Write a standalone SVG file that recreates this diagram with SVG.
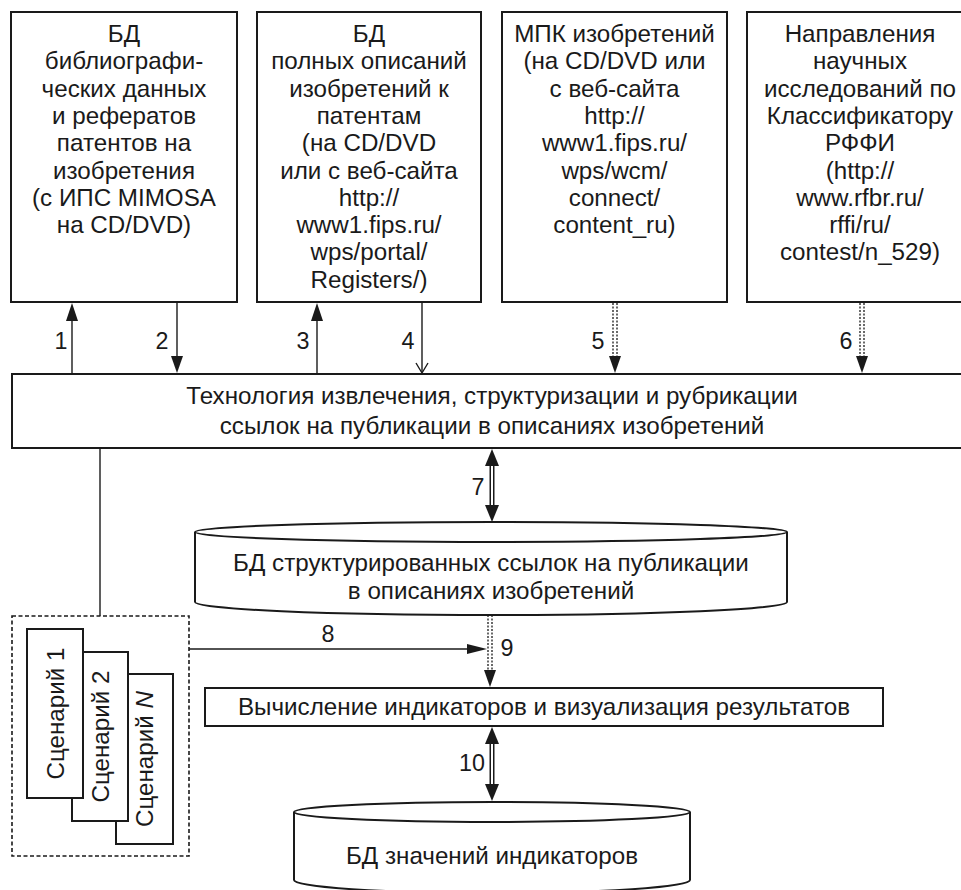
<svg xmlns="http://www.w3.org/2000/svg" width="961" height="890" viewBox="0 0 961 890">
<defs>
<style>
.box{fill:#fff;stroke:#1a1a1a;stroke-width:2}
.t{font-family:"Liberation Sans",Arial,sans-serif;font-size:24.2px;fill:#1a1a1a;text-anchor:middle}
.lbl{font-family:"Liberation Sans",Arial,sans-serif;font-size:23.3px;fill:#1a1a1a;text-anchor:middle}
.ln{stroke:#1a1a1a;stroke-width:1.4;fill:none}
.dot{stroke:#1a1a1a;stroke-width:1.3;stroke-dasharray:2 1.5;fill:none}
.head{fill:#1a1a1a;stroke:none}
.dashbox{fill:none;stroke:#1a1a1a;stroke-width:1.6;stroke-dasharray:4 2.5}
</style>
</defs>
<rect width="961" height="890" fill="#fff"/>

<g id="box1">
<rect class="box" x="11" y="12" width="226" height="290"/>
<text class="t" x="124" y="42">БД</text>
<text class="t" x="124" y="69.3">библиографи-</text>
<text class="t" x="124" y="96.6">ческих данных</text>
<text class="t" x="124" y="123.9">и рефератов</text>
<text class="t" x="124" y="151.2">патентов на</text>
<text class="t" x="124" y="178.5">изобретения</text>
<text class="t" x="124" y="205.8">(с ИПС MIMOSA</text>
<text class="t" x="124" y="233.1">на CD/DVD)</text>
</g>

<g id="box2">
<rect class="box" x="257" y="12" width="224" height="290"/>
<text class="t" x="369" y="42">БД</text>
<text class="t" x="369" y="69.3">полных описаний</text>
<text class="t" x="369" y="96.6">изобретений к</text>
<text class="t" x="369" y="123.9">патентам</text>
<text class="t" x="369" y="151.2">(на CD/DVD</text>
<text class="t" x="369" y="178.5">или с веб-сайта</text>
<text class="t" x="369" y="205.8">http://</text>
<text class="t" x="369" y="233.1">www1.fips.ru/</text>
<text class="t" x="369" y="260.4">wps/portal/</text>
<text class="t" x="369" y="287.7">Registers/)</text>
</g>

<g id="box3">
<rect class="box" x="502" y="12" width="225" height="290"/>
<text class="t" x="614.5" y="42">МПК изобретений</text>
<text class="t" x="614.5" y="69.3">(на CD/DVD или</text>
<text class="t" x="614.5" y="96.6">с веб-сайта</text>
<text class="t" x="614.5" y="123.9">http://</text>
<text class="t" x="614.5" y="151.2">www1.fips.ru/</text>
<text class="t" x="614.5" y="178.5">wps/wcm/</text>
<text class="t" x="614.5" y="205.8">connect/</text>
<text class="t" x="614.5" y="233.1">content_ru)</text>
</g>

<g id="box4">
<rect class="box" x="747" y="12" width="226" height="290"/>
<text class="t" x="860" y="42">Направления</text>
<text class="t" x="860" y="69.3">научных</text>
<text class="t" x="860" y="96.6">исследований по</text>
<text class="t" x="860" y="123.9">Классификатору</text>
<text class="t" x="860" y="151.2">РФФИ</text>
<text class="t" x="860" y="178.5">(http://</text>
<text class="t" x="860" y="205.8">www.rfbr.ru/</text>
<text class="t" x="860" y="233.1">rffi/ru/</text>
<text class="t" x="860" y="260.4">contest/n_529)</text>
</g>

<g id="tech">
<rect class="box" x="12" y="374" width="960" height="74"/>
<text class="t" x="492" y="404">Технология извлечения, структуризации и рубрикации</text>
<text class="t" x="492" y="434">ссылок на публикации в описаниях изобретений</text>
</g>

<g id="db1">
<path class="box" d="M195,532 L195,602 A296,13 0 0 0 787,602 L787,532"/>
<ellipse class="box" cx="491" cy="532" rx="296" ry="10"/>
<text class="t" x="491" y="571">БД структурированных ссылок на публикации</text>
<text class="t" x="491" y="598.5">в описаниях изобретений</text>
</g>

<g id="scenarios">
<rect class="dashbox" x="12" y="616" width="177" height="240"/>
<rect class="box" x="116" y="674" width="57" height="170"/>
<rect class="box" x="72" y="652" width="56" height="169"/>
<rect class="box" x="27" y="629" width="56" height="169"/>
<text class="t" transform="translate(63.5,713.5) rotate(-90)">Сценарий 1</text>
<text class="t" transform="translate(108.5,736.5) rotate(-90)">Сценарий 2</text>
<text class="t" transform="translate(153,759) rotate(-90)">Сценарий <tspan font-style="italic">N</tspan></text>
</g>

<g id="calc">
<rect class="box" x="205" y="688" width="678" height="38"/>
<text class="t" x="544" y="715">Вычисление индикаторов и визуализация результатов</text>
</g>

<g id="db2">
<path class="box" d="M294,812 L294,880 A198,13 0 0 0 690,880 L690,812"/>
<ellipse class="box" cx="492" cy="812" rx="198" ry="10"/>
<text class="t" x="492" y="864">БД значений индикаторов</text>
</g>

<g id="connectors">
<line class="ln" x1="72" y1="374" x2="72" y2="318"/>
<polygon class="head" points="72,303 66,321 78,321"/>
<line class="ln" x1="177" y1="302" x2="177" y2="358"/>
<polygon class="head" points="177,373 171,356 183,356"/>
<line class="ln" x1="317" y1="374" x2="317" y2="318"/>
<polygon class="head" points="317,303 311,321 323,321"/>
<line class="ln" x1="422" y1="302" x2="422" y2="372"/>
<polyline class="ln" points="416,363 422,373 428,363"/>
<line class="dot" x1="613" y1="303" x2="613" y2="358"/>
<line class="dot" x1="617" y1="303" x2="617" y2="358"/>
<polygon class="head" points="615,373 609,356 621,356"/>
<line class="dot" x1="860" y1="303" x2="860" y2="358"/>
<line class="dot" x1="864" y1="303" x2="864" y2="358"/>
<polygon class="head" points="862,373 856,356 868,356"/>
<line x1="492" y1="463" x2="492" y2="507" stroke="#1a1a1a" stroke-width="5"/>
<line x1="492" y1="463" x2="492" y2="507" stroke="#fff" stroke-width="2"/>
<polygon class="head" points="492,449 485,466 499,466"/>
<polygon class="head" points="492,522 485,505 499,505"/>
<line class="ln" x1="100" y1="448" x2="100" y2="616"/>
<line class="ln" x1="189" y1="649" x2="470" y2="649"/>
<polygon class="head" points="487,649 467,644 467,654"/>
<line class="dot" x1="488" y1="615" x2="488" y2="672"/>
<line class="dot" x1="492" y1="615" x2="492" y2="672"/>
<polygon class="head" points="490,687 484,670 496,670"/>
<line x1="492" y1="741" x2="492" y2="787" stroke="#1a1a1a" stroke-width="5"/>
<line x1="492" y1="741" x2="492" y2="787" stroke="#fff" stroke-width="2"/>
<polygon class="head" points="492,727 485,744 499,744"/>
<polygon class="head" points="492,801 485,784 499,784"/>
</g>

<g id="labels">
<text class="lbl" x="61" y="349">1</text>
<text class="lbl" x="162" y="349">2</text>
<text class="lbl" x="303" y="349">3</text>
<text class="lbl" x="408" y="349">4</text>
<text class="lbl" x="598" y="349">5</text>
<text class="lbl" x="846" y="349">6</text>
<text class="lbl" x="478" y="495">7</text>
<text class="lbl" x="328" y="642">8</text>
<text class="lbl" x="507" y="656">9</text>
<text class="lbl" x="472" y="771">10</text>
</g>
</svg>
